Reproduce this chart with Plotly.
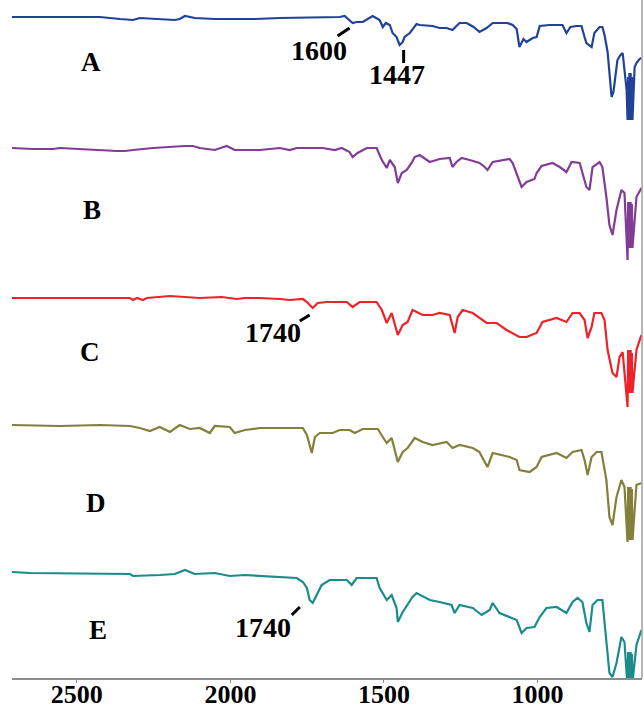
import plotly.graph_objects as go

# ---- data (wavenumber cm-1, relative transmittance) ----
wn_A = [2711, 2425, 2360, 2317, 2295, 2181, 2165, 2148, 2116, 2051, 1920, 1839,
        1644, 1628, 1602, 1589, 1569, 1553, 1537, 1514, 1504, 1494, 1481, 1472, 1459, 1449,
        1439, 1433, 1416, 1394, 1384, 1342, 1319, 1296, 1277, 1264, 1254, 1231, 1208, 1189,
        1166, 1146, 1098, 1081, 1068, 1059, 1046, 1036, 1016, 1003, 993, 961, 919, 906, 893,
        873, 857, 847, 841, 824, 815, 798, 789, 782, 772, 759, 753, 740, 730, 723, 717, 710,
        707, 705, 703, 701, 699, 697, 695, 693, 691, 684, 678, 668, 662]
T_A = [100, 100, 98, 97, 99, 97, 98, 101, 99, 98, 98, 99,
       100, 101, 94, 95, 95, 98, 101, 97, 90, 94, 92, 84, 80, 72,
       75, 80, 84, 93, 92, 91, 89, 89, 87, 91, 94, 94, 90, 85,
       89, 94, 94, 92, 88, 70, 78, 75, 79, 80, 91, 92, 92, 84, 90,
       91, 91, 80, 74, 70, 84, 90, 90, 82, 65, 20, 25, 57, 62, 64, 45, 27,
       -3, 40, -3, 44, -3, 44, -3, 40, -3, 50, 54, 58, 59]

wn_B = [2711, 2643, 2578, 2555, 2370, 2343, 2317, 2252, 2148, 2122, 2100, 2051, 2012, 1986,
        1904, 1839, 1807, 1784, 1700, 1660, 1638, 1612, 1602, 1586, 1556, 1524, 1507, 1491,
        1481, 1465, 1455, 1442, 1426, 1410, 1400, 1384, 1351, 1319, 1286, 1277, 1264, 1247,
        1221, 1189, 1172, 1163, 1146, 1091, 1081, 1068, 1052, 1036, 1010, 1003, 987, 951,
        928, 906, 889, 863, 854, 841, 831, 821, 798, 789, 776, 766, 756, 743, 727, 717,
        707, 705, 703, 701, 699, 697, 695, 693, 691, 678, 662]
T_B = [100, 99, 99, 100, 97, 97, 98, 100, 102, 102, 100, 98, 102, 98,
       98, 100, 98, 100, 100, 98, 100, 96, 91, 95, 100, 100, 88, 80,
       88, 81, 65, 75, 78, 85, 91, 93, 86, 89, 90, 81, 86, 90,
       88, 85, 81, 78, 86, 89, 85, 75, 61, 66, 69, 75, 82, 85,
       81, 76, 86, 85, 75, 61, 58, 81, 86, 81, 51, 23, 13, 38, 58, 55,
       -12, 46, 0, 46, 0, 46, 0, 44, 0, 51, 60]

wn_C = [2711, 2327, 2317, 2304, 2285, 2272, 2197, 2122, 2100, 2028, 1979, 1953, 1904, 1839,
        1807, 1764, 1751, 1732, 1716, 1686, 1621, 1602, 1579, 1524, 1507, 1491, 1475, 1455,
        1439, 1423, 1407, 1374, 1342, 1319, 1286, 1270, 1260, 1244, 1211, 1166, 1133, 1101,
        1059, 1036, 1003, 984, 938, 906, 886, 863, 847, 837, 824, 815, 792, 782, 772, 756,
        743, 733, 723, 707, 705, 703, 701, 699, 697, 695, 693, 691, 678, 662]
T_C = [100, 100, 98, 100, 98, 100, 102, 101, 100, 101, 99, 100, 100, 99,
       98, 99, 96, 90, 95, 96, 96, 91, 96, 96, 88, 75, 85, 63,
       73, 76, 88, 83, 83, 85, 83, 65, 81, 88, 85, 75, 75, 68,
       61, 61, 65, 76, 80, 76, 85, 85, 78, 60, 71, 85, 85, 78, 48, 25,
       21, 41, 46, -9, 48, 5, 48, 5, 48, 5, 45, 5, 48, 63]

wn_D = [2711, 2555, 2425, 2327, 2295, 2262, 2230, 2197, 2165, 2132, 2100, 2067, 2051, 2002,
        1986, 1953, 1904, 1839, 1764, 1751, 1742, 1735, 1725, 1709, 1667, 1644, 1612, 1595,
        1569, 1520, 1504, 1491, 1475, 1465, 1455, 1439, 1423, 1400, 1374, 1342, 1296, 1277,
        1254, 1211, 1189, 1179, 1163, 1146, 1091, 1068, 1059, 1026, 1003, 987, 938, 906, 886,
        857, 847, 837, 824, 808, 792, 776, 766, 756, 743, 727, 717,
        707, 705, 703, 701, 699, 697, 695, 693, 691, 678, 662]
T_D = [100, 99, 100, 99, 97, 94, 98, 93, 100, 96, 97, 92, 99, 98,
       92, 95, 97, 97, 97, 90, 78, 72, 88, 92, 92, 95, 95, 92,
       96, 96, 88, 82, 87, 75, 63, 73, 77, 87, 83, 80, 83, 77,
       80, 77, 73, 67, 58, 72, 68, 65, 55, 53, 58, 68, 72, 67, 73,
       75, 65, 50, 68, 73, 73, 45, 8, 0, 28, 45, 38,
       -17, 38, -15, 38, -15, 38, -15, 36, -15, 40, 42]

wn_E = [2711, 2653, 2327, 2317, 2230, 2181, 2148, 2116, 2051, 2002, 1953, 1904, 1839, 1784,
        1764, 1751, 1742, 1732, 1719, 1703, 1677, 1621, 1605, 1589, 1524, 1514, 1491, 1475,
        1459, 1455, 1439, 1423, 1407, 1394, 1351, 1319, 1280, 1270, 1254, 1211, 1182, 1156,
        1146, 1124, 1091, 1068, 1052, 1036, 1010, 993, 971, 938, 906, 886, 870, 854, 841,
        831, 821, 805, 789, 776, 766, 756, 743, 727, 717,
        707, 705, 703, 701, 699, 697, 695, 693, 691, 678, 662]
T_E = [100, 99, 98, 96, 97, 98, 102, 98, 99, 96, 97, 96, 95, 94,
       90, 84, 72, 69, 77, 87, 92, 92, 87, 94, 94, 84, 72, 77,
       64, 50, 60, 67, 75, 79, 72, 70, 67, 59, 67, 64, 57, 62,
       69, 59, 55, 52, 39, 44, 45, 55, 64, 65, 59, 70, 74, 70, 49,
       40, 67, 72, 72, 29, -1, -5, 9, 35, 30,
       -15, 20, -10, 20, -10, 20, -10, 18, -10, 27, 42]

series_names = ["A", "B", "C", "D", "E"]
series_wn = [wn_A, wn_B, wn_C, wn_D, wn_E]
series_T = [T_A, T_B, T_C, T_D, T_E]
colors = ["#22429A", "#823C96", "#EE2229", "#82803A", "#1A8C8C"]
offsets = [561, 430, 280, 153, 6]

tick_vals = [2500, 2000, 1500, 1000]
tick_text = ["2500", "2000", "1500", "1000"]

# label positions (wavenumber, y)
label_pos = [(2454, 616), (2451, 468), (2457, 326), (2438, 175), (2431, 48)]

peak_labels = [("1600", 1712, 628), ("1447", 1459, 604), ("1740", 1862, 346), ("1740", 1895, 51)]
peak_marks = [(1651, 642, 1612, 650), (1436, 628, 1436, 615), (1774, 357, 1742, 363), (1800, 63, 1774, 71)]

fig = go.Figure()
for name, wn, T, c, off in zip(series_names, series_wn, series_T, colors, offsets):
    fig.add_trace(go.Scatter(x=wn, y=[t + off for t in T], mode="lines",
                             line=dict(color=c, width=2.2), name=name, hoverinfo="skip"))

serif = "Liberation Serif, Times New Roman, serif"
for name, (lx, ly) in zip(series_names, label_pos):
    fig.add_annotation(x=lx, y=ly, text=name, showarrow=False,
                       font=dict(family=serif, size=27, color="black", weight="bold"))
for txt, px, py in peak_labels:
    fig.add_annotation(x=px, y=py, text=txt, showarrow=False,
                       font=dict(family=serif, size=28, color="black", weight="bold"))
for x0, y0, x1, y1 in peak_marks:
    fig.add_shape(type="line", x0=x0, y0=y0, x1=x1, y1=y1, xref="x", yref="y",
                  line=dict(color="black", width=3))

# right-hand frame line
fig.add_shape(type="line", x0=1, x1=1, y0=0, y1=1, xref="paper", yref="paper",
              line=dict(color="#a0a0a0", width=1.5))

fig.update_layout(
    width=644, height=710,
    margin=dict(l=12, r=2, t=0, b=32, autoexpand=False),
    plot_bgcolor="white", paper_bgcolor="white",
    showlegend=False,
    xaxis=dict(range=[2711, 660], tickvals=tick_vals, ticktext=tick_text,
               automargin=False,
               showgrid=False, zeroline=False, showline=True, linecolor="#8c8c8c",
               linewidth=1.5, ticks="outside", ticklen=3, tickcolor="#8c8c8c",
               ticklabelstandoff=-11,
               tickfont=dict(family=serif, size=26, color="black", weight="bold")),
    yaxis=dict(range=[0, 678], showline=False, showgrid=False, zeroline=False,
               showticklabels=False, ticks="", automargin=False),
)
fig.write_html("out.html", config={"displayModeBar": False},
               post_script="document.body.style.margin='0';document.body.style.overflow='hidden';")
